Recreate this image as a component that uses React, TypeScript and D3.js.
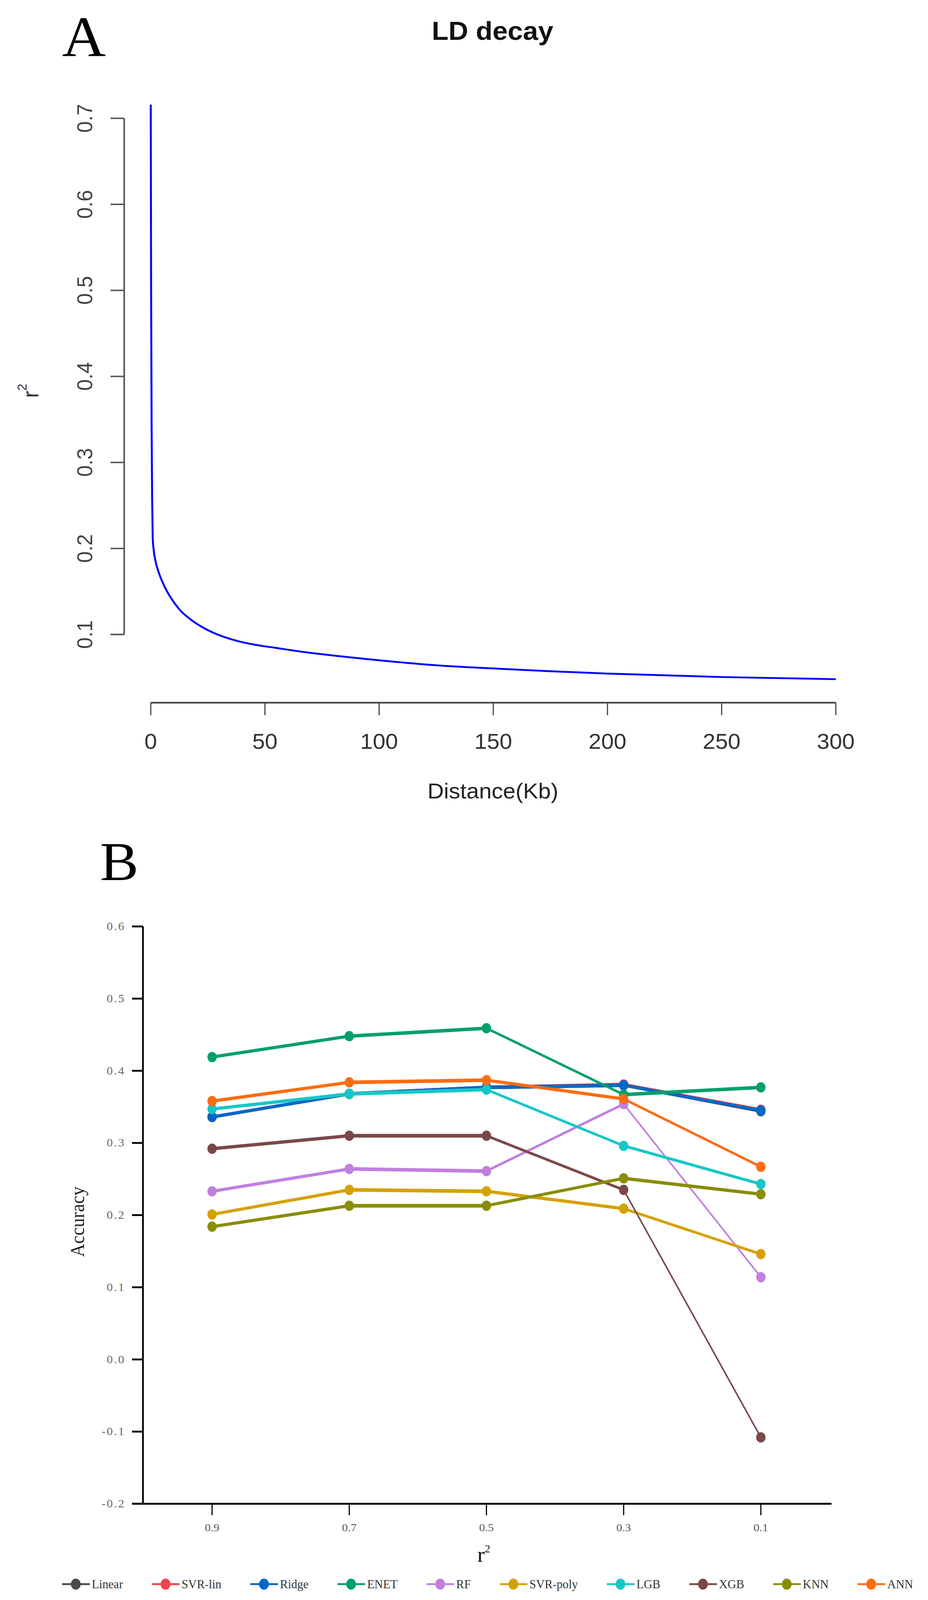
// App.tsx
// Two stacked panels: LD decay curve (A) and model accuracy by r2 threshold (B)
import React, { useEffect, useRef } from "react"
import * as d3 from "d3"

// ---- Panel A: LD decay ----
const ldDistance = [0, 0.15, 0.4, 0.6, 0.86, 1.25, 2.1, 3.5, 5.8, 8.7, 12.6, 17.2, 22.9, 29.2, 37.2, 45.7, 54.3, 65.1, 80, 100, 125, 150, 175, 200, 250, 300]
const ldR2 = [0.716, 0.5, 0.33, 0.26, 0.212, 0.199, 0.185, 0.172, 0.157, 0.143, 0.129, 0.118, 0.108, 0.1, 0.093, 0.088, 0.0846, 0.0803, 0.0755, 0.07, 0.0642, 0.0605, 0.0573, 0.0545, 0.0505, 0.048]
const ldXTicks = [0, 50, 100, 150, 200, 250, 300]
const ldYTicks = [0.1, 0.2, 0.3, 0.4, 0.5, 0.6, 0.7]

// ---- Panel B: accuracy per model ----
const thresholds = ["0.9", "0.7", "0.5", "0.3", "0.1"]
const models = ["Linear", "SVR-lin", "Ridge", "ENET", "RF", "SVR-poly", "LGB", "XGB", "KNN", "ANN"]
const linearAcc = [0.336, 0.368, 0.377, 0.38, 0.344]
const svrLinAcc = [0.336, 0.368, 0.377, 0.381, 0.346]
const ridgeAcc = [0.336, 0.368, 0.377, 0.38, 0.345]
const enetAcc = [0.419, 0.448, 0.459, 0.367, 0.377]
const rfAcc = [0.233, 0.264, 0.261, 0.354, 0.114]
const svrPolyAcc = [0.201, 0.235, 0.233, 0.209, 0.146]
const lgbAcc = [0.347, 0.368, 0.374, 0.296, 0.243]
const xgbAcc = [0.292, 0.31, 0.31, 0.235, -0.108]
const knnAcc = [0.184, 0.213, 0.213, 0.251, 0.229]
const annAcc = [0.358, 0.384, 0.387, 0.361, 0.267]
const accTicks = [0.6, 0.5, 0.4, 0.3, 0.2, 0.1, 0.0, -0.1, -0.2]

const accByModel: Record<string, number[]> = {
    Linear: linearAcc,
    "SVR-lin": svrLinAcc,
    Ridge: ridgeAcc,
    ENET: enetAcc,
    RF: rfAcc,
    "SVR-poly": svrPolyAcc,
    LGB: lgbAcc,
    XGB: xgbAcc,
    KNN: knnAcc,
    ANN: annAcc,
}

const modelColor: Record<string, string> = {
    Linear: "#4a4a4a",
    "SVR-lin": "#f0444e",
    Ridge: "#0068c9",
    ENET: "#00a06b",
    RF: "#c17fe0",
    "SVR-poly": "#d6a100",
    LGB: "#16c7c7",
    XGB: "#7b4848",
    KNN: "#8a8d05",
    ANN: "#ff6b10",
}

const SANS = "'Liberation Sans', Arial, Helvetica, sans-serif"
const SERIF = "'Liberation Serif', 'Times New Roman', serif"
const W = 2376
const H = 4340

type Sel = d3.Selection<SVGSVGElement, unknown, null, undefined>

function drawPanelA(svg: Sel) {
    const x = d3.scaleLinear().domain([0, 300]).range([386, 2140])
    const y = d3.scaleLinear().domain([0.1, 0.7]).range([1721, 321])
    const g = svg.append("g").attr("font-family", SANS)

    g.append("text").attr("x", 159).attr("y", 152).attr("font-family", SERIF).attr("font-size", 155).text("A")

    g.append("text")
        .attr("x", 1261)
        .attr("y", 108)
        .attr("text-anchor", "middle")
        .attr("font-size", 70)
        .attr("font-weight", "bold")
        .attr("fill", "#111")
        .text("LD decay")

    // y axis (R style: spans tick range only)
    g.append("line")
        .attr("x1", 318).attr("x2", 318)
        .attr("y1", y(0.1)).attr("y2", y(0.7))
        .attr("stroke", "#555").attr("stroke-width", 4)
    const yt = g.selectAll(".ytA").data(ldYTicks).enter().append("g").attr("class", "ytA")
    yt.append("line")
        .attr("x1", 283).attr("x2", 318)
        .attr("y1", (d) => y(d)).attr("y2", (d) => y(d))
        .attr("stroke", "#555").attr("stroke-width", 4)
    yt.append("text")
        .attr("transform", (d) => `translate(236,${y(d)}) rotate(-90)`)
        .attr("text-anchor", "middle")
        .attr("font-size", 56)
        .attr("fill", "#444")
        .text((d) => d.toFixed(1))

    // x axis
    g.append("line")
        .attr("x1", x(0)).attr("x2", x(300))
        .attr("y1", 1906).attr("y2", 1906)
        .attr("stroke", "#444").attr("stroke-width", 4.5)
    const xt = g.selectAll(".xtA").data(ldXTicks).enter().append("g").attr("class", "xtA")
    xt.append("line")
        .attr("x1", (d) => x(d)).attr("x2", (d) => x(d))
        .attr("y1", 1906).attr("y2", 1940)
        .attr("stroke", "#444").attr("stroke-width", 3)
    xt.append("text")
        .attr("x", (d) => x(d))
        .attr("y", 2031)
        .attr("text-anchor", "middle")
        .attr("font-size", 58)
        .attr("fill", "#333")
        .text((d) => String(d))

    g.append("text")
        .attr("x", 1262).attr("y", 2166)
        .attr("text-anchor", "middle")
        .attr("font-size", 58)
        .attr("fill", "#222")
        .text("Distance(Kb)")

    const yl = g.append("text")
        .attr("transform", "translate(98,1060) rotate(-90)")
        .attr("text-anchor", "middle")
        .attr("font-size", 58)
        .attr("fill", "#333")
    yl.append("tspan").text("r")
    yl.append("tspan").attr("dy", -30).attr("font-size", 34).text("2")

    // decay curve
    const pts = ldDistance.map((d, i) => [d, ldR2[i]] as [number, number])
    const line = d3.line<[number, number]>()
        .x((d) => x(d[0]))
        .y((d) => y(d[1]))
        .curve(d3.curveMonotoneX)
    g.append("path")
        .attr("d", line(pts) as string)
        .attr("fill", "none")
        .attr("stroke", "#0000ff")
        .attr("stroke-width", 5)
}

function drawPanelB(svg: Sel) {
    const x = d3.scalePoint<string>().domain(thresholds).range([543, 1948])
    const y = d3.scaleLinear().domain([-0.2, 0.6]).range([4079, 2513])
    const g = svg.append("g").attr("font-family", SERIF)

    g.append("text").attr("x", 256).attr("y", 2387).attr("font-size", 148).text("B")

    // y axis
    g.append("line")
        .attr("x1", 366).attr("x2", 366)
        .attr("y1", y(0.6)).attr("y2", y(-0.2))
        .attr("stroke", "#000").attr("stroke-width", 4.5)
    const yt = g.selectAll(".ytB").data(accTicks).enter().append("g").attr("class", "ytB")
    yt.append("line")
        .attr("x1", 338).attr("x2", 366)
        .attr("y1", (d) => y(d)).attr("y2", (d) => y(d))
        .attr("stroke", "#000").attr("stroke-width", 5)
    yt.append("text")
        .attr("x", 321)
        .attr("y", (d) => y(d) + 10)
        .attr("text-anchor", "end")
        .attr("font-size", 31)
        .attr("letter-spacing", 3)
        .attr("fill", "#666")
        .text((d) => d.toFixed(1))

    // x axis
    g.append("line")
        .attr("x1", 338).attr("x2", 2129)
        .attr("y1", y(-0.2)).attr("y2", y(-0.2))
        .attr("stroke", "#000").attr("stroke-width", 5)
    const xt = g.selectAll(".xtB").data(thresholds).enter().append("g").attr("class", "xtB")
    xt.append("line")
        .attr("x1", (d) => x(d) as number).attr("x2", (d) => x(d) as number)
        .attr("y1", y(-0.2)).attr("y2", y(-0.2) + 31)
        .attr("stroke", "#000").attr("stroke-width", 3)
    xt.append("text")
        .attr("x", (d) => x(d) as number)
        .attr("y", 4153)
        .attr("text-anchor", "middle")
        .attr("font-size", 30)
        .attr("fill", "#555")
        .text((d) => d)

    g.append("text")
        .attr("transform", "translate(215,3314) rotate(-90)")
        .attr("text-anchor", "middle")
        .attr("font-size", 50)
        .attr("fill", "#222")
        .text("Accuracy")

    const xl = g.append("text").attr("x", 1222).attr("y", 4236).attr("font-size", 58).attr("fill", "#111")
    xl.append("tspan").text("r")
    xl.append("tspan").attr("dy", -25).attr("font-size", 28).text("2")

    // series: segments get thinner as they get steeper, as in the figure
    models.forEach((m) => {
        const vals = accByModel[m]
        const color = modelColor[m]
        const sg = g.append("g").attr("class", "series")
        const segs = d3.pairs(vals.map((v, i) => ({ c: thresholds[i], v })))
        sg.selectAll("line")
            .data(segs)
            .enter()
            .append("line")
            .attr("x1", (d) => x(d[0].c) as number)
            .attr("y1", (d) => y(d[0].v))
            .attr("x2", (d) => x(d[1].c) as number)
            .attr("y2", (d) => y(d[1].v))
            .attr("stroke", color)
            .attr("stroke-linecap", "round")
            .attr("stroke-width", (d) => {
                const dx = (x(d[1].c) as number) - (x(d[0].c) as number)
                const dy = y(d[1].v) - y(d[0].v)
                const slope = Math.abs(dy / dx)
                return Math.max(4, 10 / (1 + slope))
            })
        sg.selectAll("ellipse")
            .data(vals)
            .enter()
            .append("ellipse")
            .attr("cx", (_d, i) => x(thresholds[i]) as number)
            .attr("cy", (d) => y(d))
            .attr("rx", 12)
            .attr("ry", 14)
            .attr("fill", color)
    })

    // legend, laid out left to right
    let cursor = 159
    const ly = 4297
    models.forEach((m) => {
        const color = modelColor[m]
        const lg = g.append("g")
        lg.append("line")
            .attr("x1", cursor).attr("x2", cursor + 71)
            .attr("y1", ly).attr("y2", ly)
            .attr("stroke", color).attr("stroke-width", 5)
        lg.append("ellipse")
            .attr("cx", cursor + 35).attr("cy", ly)
            .attr("rx", 12.5).attr("ry", 15)
            .attr("fill", color)
        const t = lg.append("text")
            .attr("transform", `translate(${cursor + 76},${ly + 11}) scale(0.9,1)`)
            .attr("font-size", 34)
            .attr("fill", "#333")
            .text(m)
        const w = (t.node() as SVGTextElement).getComputedTextLength() * 0.9
        cursor += 76 + w + 74
    })
}

export default function App() {
    const ref = useRef<SVGSVGElement>(null)

    useEffect(() => {
        if (!ref.current) return
        const svg = d3.select(ref.current)
        svg.selectAll("*").remove()
        drawPanelA(svg)
        drawPanelB(svg)
    }, [])

    // the drawing is laid out in 2376x4340 units and stretched to the visible
    // viewport, so nothing at the bottom gets lost if the viewport is shorter
    return (
        <svg
            ref={ref}
            viewBox={`0 0 ${W} ${H}`}
            preserveAspectRatio="none"
            style={{
                position: "fixed",
                left: 0,
                top: 0,
                width: "100vw",
                height: "100vh",
                display: "block",
                background: "#fff",
            }}
        />
    )
}
